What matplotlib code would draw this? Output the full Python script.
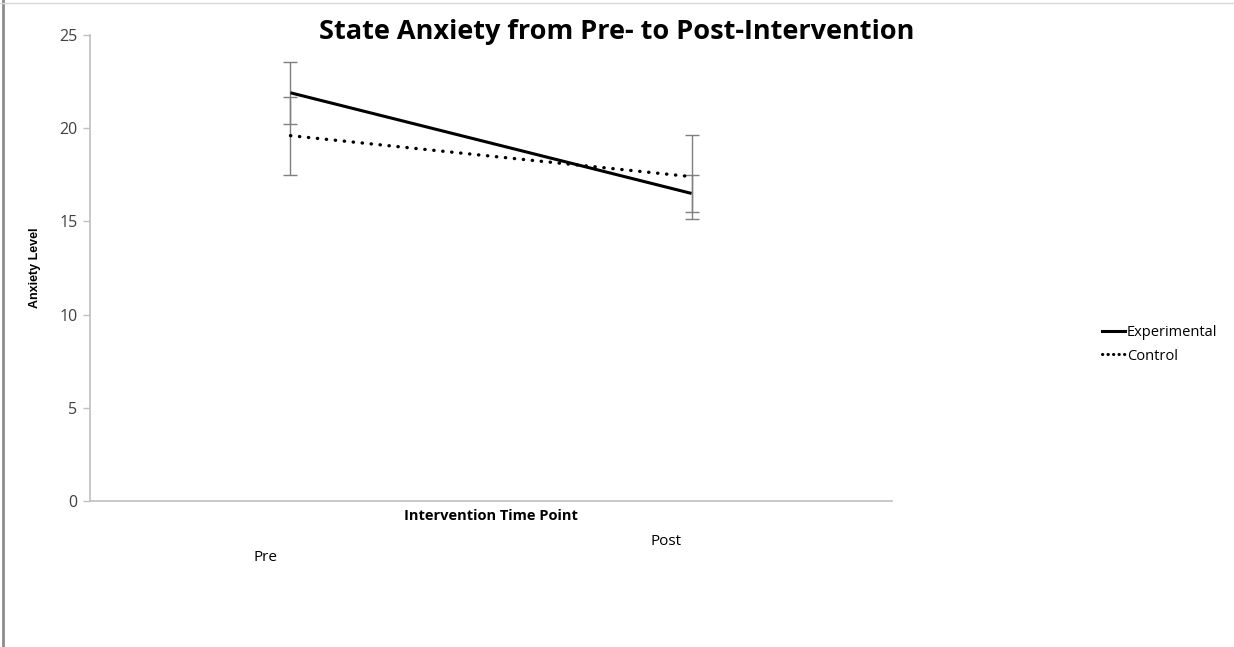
import matplotlib

matplotlib.use("Agg")
import matplotlib.pyplot as plt
from matplotlib.lines import Line2D

# values
time_points = ["Pre", "Post"]
experimental_mean = [21.9, 16.5]
experimental_err = [1.65, 1.0]
control_mean = [19.6, 17.4]
control_err = [2.1, 2.25]
y_ticks = [0, 5, 10, 15, 20, 25]

FONT = ["Open Sans", "DejaVu Sans"]
NARROW = ["Liberation Sans Narrow", "Liberation Sans", "DejaVu Sans"]

fig = plt.figure(figsize=(12.34, 6.47), dpi=100)
ax = fig.add_axes([0.0729, 0.2257, 0.65, 0.7202])

x = list(range(len(time_points)))
ax.errorbar(x, experimental_mean, yerr=experimental_err, fmt="none",
            ecolor="#7f7f7f", elinewidth=1.0, capsize=5, capthick=1.0, zorder=2)
ax.errorbar(x, control_mean, yerr=control_err, fmt="none",
            ecolor="#7f7f7f", elinewidth=1.0, capsize=5, capthick=1.0, zorder=2)
ax.plot(x, experimental_mean, color="black", lw=2.2, solid_capstyle="butt",
        label="Experimental", zorder=3)
ax.plot(x, control_mean, color="black", lw=2.4, linestyle=(0, (0.1, 2.6)),
        dash_capstyle="round", label="Control", zorder=3)

ax.set_xlim(-0.5, 1.5)
ax.set_ylim(0, 25)
ax.set_yticks(y_ticks)
ax.set_yticklabels([str(v) for v in y_ticks], family=FONT, fontsize=11.5, color="#404040")
ax.tick_params(axis="y", direction="out", length=5, width=1, color="#bfbfbf", pad=4)
ax.set_xticks([])
for side in ["top", "right"]:
    ax.spines[side].set_visible(False)
for side in ["left", "bottom"]:
    ax.spines[side].set_color("#bfbfbf")
    ax.spines[side].set_linewidth(1.2)

# category labels sit oddly low and left of their points in the reference
label_drop = [41, 29]
for xi, name, drop in zip(x, time_points, label_drop):
    ax.annotate(name, xy=(xi, 0), xycoords=("data", "axes fraction"),
                xytext=(-18, -drop), textcoords="offset points",
                ha="center", va="center", family=FONT, fontsize=11, color="black")

ax.annotate("Intervention Time Point", xy=(0.5, 0), xycoords="axes fraction",
            xytext=(0, -11), textcoords="offset points", ha="center", va="center",
            family=FONT, fontsize=10.5, fontweight="bold")
ax.set_ylabel("Anxiety Level", family=NARROW, fontsize=9, fontweight="bold", labelpad=13)

fig.text(0.5, 0.951, "State Anxiety from Pre- to Post-Intervention", ha="center",
         va="center", family=FONT, fontsize=19.5, fontweight="bold")

handles = [
    Line2D([], [], color="black", lw=2.2),
    Line2D([], [], color="black", lw=2.2, linestyle=(0, (0.1, 1.7)), dash_capstyle="round"),
]
fig.legend(handles, ["Experimental", "Control"], loc="center left",
           bbox_to_anchor=(0.882, 0.468), frameon=False, handlelength=1.6,
           handletextpad=0.15, labelspacing=0.6, prop={"family": FONT, "size": 10.5})

# page border lines seen in the reference
fig.add_artist(Line2D([0.0028, 0.0028], [0, 1], transform=fig.transFigure,
                      color="#8c8c8c", lw=2))
fig.add_artist(Line2D([0, 1], [0.996, 0.996], transform=fig.transFigure,
                      color="#d9d9d9", lw=1))

fig.savefig("out.png", dpi=100)
